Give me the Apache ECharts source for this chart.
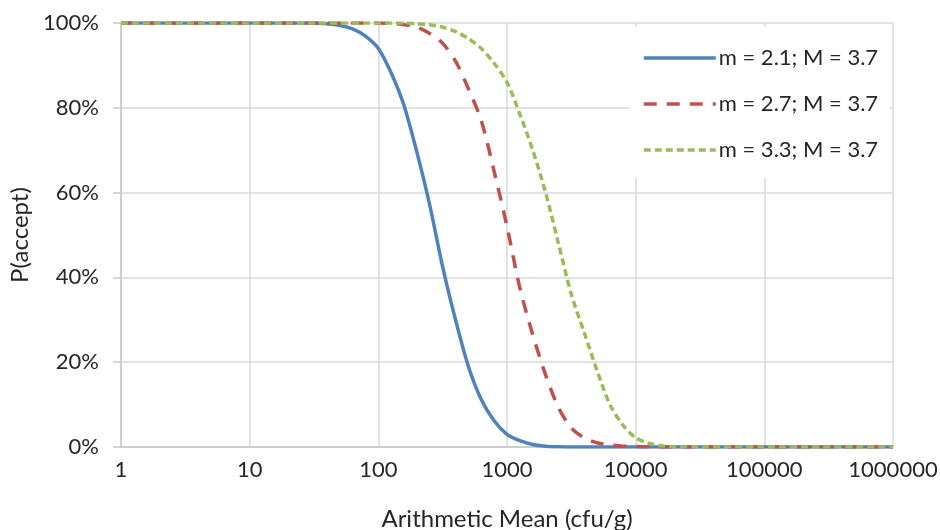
<!DOCTYPE html>
<html>
<head>
<meta charset="utf-8">
<script src="https://cdn.jsdelivr.net/npm/echarts@6/dist/echarts.min.js"></script>
<style>
html,body{margin:0;padding:0;background:#fff;}
#chart{width:940px;height:530px;}
</style>
</head>
<body>
<div id="chart"></div>
<script>
// x values (cfu/g), log-spaced sample points
var xValues = [1, 10, 31.6, 39.8, 50.1, 63.1, 79.4, 100, 125.9, 158.5, 199.5, 251.2, 316.2, 398.1, 501.2, 631, 794.3, 1000, 1258.9, 1584.9, 1995.3, 2511.9, 3162.3, 3981.1, 5011.9, 6309.6, 7943.3, 10000, 12589, 15849, 19953, 31623, 100000, 1000000];
// P(accept) in %
var blueVals  = [100, 100, 100, 99.8, 99.4, 98.6, 96.9, 94, 88.2, 80.5, 69.5, 57, 42.5, 30, 19, 11.2, 6.2, 3.0, 1.5, 0.6, 0.2, 0.05, 0, 0, 0, 0, 0, 0, 0, 0, 0, 0, 0, 0];
var redVals   = [100, 100, 100, 100, 100, 100, 100, 100, 99.9, 99.6, 99, 97.5, 95.2, 91, 84.5, 77, 65, 52, 37.5, 26.5, 17, 9.3, 4.5, 2.2, 1.0, 0.5, 0.2, 0.1, 0.03, 0, 0, 0, 0, 0];
var greenVals = [100, 100, 100, 100, 100, 100, 100, 100, 100, 100, 99.8, 99.6, 99.0, 98, 96.3, 94, 90.5, 86, 78.5, 70, 60, 48, 36, 27, 18, 10, 5.2, 2.2, 0.9, 0.3, 0.05, 0, 0, 0];
var seriesNames = ['m = 2.1; M = 3.7', 'm = 2.7; M = 3.7', 'm = 3.3; M = 3.7'];
var yTicks = [0, 20, 40, 60, 80, 100];

function pairs(vals){ return xValues.map(function(x,i){ return [x, vals[i]]; }); }

var chart = echarts.init(document.getElementById('chart'), null, {renderer:'canvas'});
var font = 'Lato, "Open Sans", sans-serif';
var txt = '#262626';
chart.setOption({
  animation: false,
  backgroundColor: '#fff',
  grid: {left: 121, right: 47, top: 23, bottom: 83, containLabel: false, outerBoundsMode: 'none'},
  legend: {
    orient: 'vertical',
    left: 630, top: 27,
    backgroundColor: '#fff',
    padding: [20, 12, 17, 12],
    itemWidth: 72, itemHeight: 14, itemGap: 24,
    itemStyle: {opacity: 0},
    lineStyle: {width: 3.5},
    textStyle: {fontFamily: font, fontSize: 22, color: txt, padding: [0,0,0,-2]},
    data: seriesNames
  },
  xAxis: {
    type: 'log', logBase: 10, min: 1, max: 1000000,
    name: 'Arithmetic Mean (cfu/g)', nameLocation: 'middle', nameGap: 60,
    nameTextStyle: {fontFamily: font, fontSize: 24, color: txt},
    axisLine: {show: true, lineStyle: {color: '#C8C8C8', width: 1.5}},
    axisTick: {show: false},
    splitLine: {show: true, lineStyle: {color: '#D9D9D9', width: 1.5}},
    minorTick: {show: false},
    axisLabel: {fontFamily: font, fontSize: 22, color: txt, margin: 12,
      formatter: function(v){ return String(Math.round(v)); }}
  },
  yAxis: {
    type: 'value', min: 0, max: 100, interval: 20,
    name: 'P(accept)', nameLocation: 'middle', nameGap: 88,
    nameTextStyle: {fontFamily: font, fontSize: 24, color: txt},
    axisLine: {show: true, lineStyle: {color: '#C8C8C8', width: 1.5}},
    axisTick: {show: true, inside: false, length: 8, lineStyle: {color: '#C8C8C8', width: 1.5}},
    splitLine: {show: true, lineStyle: {color: '#D9D9D9', width: 1.5}},
    axisLabel: {fontFamily: font, fontSize: 22, color: txt, margin: 22,
      formatter: function(v){ return yTicks.indexOf(v) >= 0 ? v + '%' : ''; }}
  },
  series: [
    {name: seriesNames[0], type: 'line', data: pairs(blueVals), smooth: 0.3, symbol: 'none',
     lineStyle: {color: '#4F81BD', width: 3.5, type: 'solid'}, itemStyle: {color: '#4F81BD'}},
    {name: seriesNames[1], type: 'line', data: pairs(redVals), smooth: 0.3, symbol: 'none',
     lineStyle: {color: '#C0504D', width: 3.5, type: [13, 10]}, itemStyle: {color: '#C0504D'}},
    {name: seriesNames[2], type: 'line', data: pairs(greenVals), smooth: 0.3, symbol: 'none',
     lineStyle: {color: '#9BBB59', width: 3.5, type: [7, 4]}, itemStyle: {color: '#9BBB59'}}
  ]
});
</script>
</body>
</html>
